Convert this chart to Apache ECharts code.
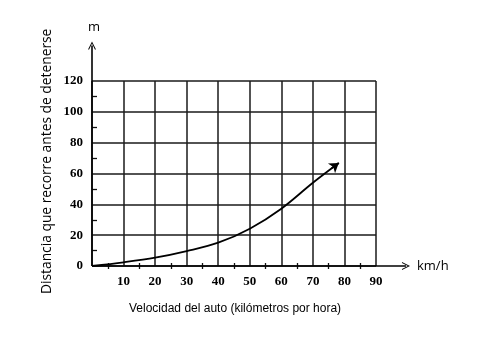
<!DOCTYPE html>
<html><head><meta charset="utf-8">
<script src="https://cdn.jsdelivr.net/npm/echarts@6/dist/echarts.min.js"></script>
<style>html,body{margin:0;padding:0;background:#fff}#c{width:495px;height:352px}</style>
</head><body><div id="c"></div>
<script>
const speed = [0, 10, 20, 30, 40, 50, 60, 70, 78.2];
const distance = [0, 2.4, 5.4, 9.7, 15.1, 24.2, 37.2, 54, 66.8];
const arrowFrom = [76, 63.5];
const xTicks = [10, 20, 30, 40, 50, 60, 70, 80, 90];
const yTicks = [0, 20, 40, 60, 80, 100, 120];
const xAxisEnd = 99.5, yAxisEnd = 143;

const chart = echarts.init(document.getElementById('c'));
const n = speed.length;
const chevron = 'path://M0,10 L5,0 L10,10 L8.6,10 L5,2.6 L1.4,10 Z';
const labelFont = {fontFamily: 'Liberation Serif', fontWeight: 'bold', fontSize: 13, color: '#000'};
chart.setOption({
  animation: false,
  backgroundColor: '#fff',
  grid: {left: 92, right: 119, top: 81, bottom: 86},
  xAxis: [{
    type: 'value', min: 0, max: 90, interval: 10,
    axisLine: {show: false},
    axisTick: {show: false},
    minorTick: {show: true, splitNumber: 2, length: 3, lineStyle: {color: '#111', width: 1.3}},
    splitLine: {show: true, lineStyle: {color: '#1a1a1a', width: 1.5}},
    axisLabel: Object.assign({margin: 9, showMinLabel: false,
      formatter: v => xTicks.includes(v) ? String(v) : ''}, labelFont)
  }, {
    type: 'value', min: 0, max: 90, interval: 10, position: 'bottom',
    axisLine: {show: false}, axisTick: {show: false}, axisLabel: {show: false},
    splitLine: {show: false},
    minorTick: {show: true, splitNumber: 2, length: -3, lineStyle: {color: '#111', width: 1.3}}
  }],
  yAxis: {
    type: 'value', min: 0, max: 120, interval: 20,
    axisLine: {show: false},
    axisTick: {show: false},
    minorTick: {show: true, splitNumber: 2, length: -5, lineStyle: {color: '#111', width: 1.3}},
    splitLine: {show: true, lineStyle: {color: '#1a1a1a', width: 1.5}},
    axisLabel: Object.assign({margin: 9,
      formatter: v => yTicks.includes(v) ? String(v) : ''}, labelFont)
  },
  graphic: [
    {type: 'text', left: 129, top: 303, style: {text: 'Velocidad del auto (kilómetros por hora)', font: '12px "Liberation Sans"', fill: '#000'}},
    {type: 'text', x: 40, y: 294, rotation: Math.PI / 2, style: {text: 'Distancia que recorre antes de detenerse', font: '13.8px "Open Sans"', fill: '#000', textVerticalAlign: 'top'}},
    {type: 'text', left: 88, top: 21, style: {text: 'm', font: '13px "Open Sans"', fill: '#000'}},
    {type: 'text', left: 417, top: 260, style: {text: 'km/h', font: '13px "Open Sans"', fill: '#000'}}
  ],
  series: [
    {
      type: 'line', xAxisIndex: 0, data: speed.map((s, i) => [s, distance[i]]),
      smooth: 0.35, symbol: 'none', lineStyle: {color: '#000', width: 1.8}
    },
    {
      type: 'lines', coordinateSystem: 'cartesian2d', xAxisIndex: 0, yAxisIndex: 0, clip: false,
      symbol: ['none', 'arrow'], symbolSize: 9,
      lineStyle: {color: '#000', width: 1.8, opacity: 1},
      data: [{coords: [arrowFrom, [speed[n - 1], distance[n - 1]]]}]
    },
    {
      type: 'lines', coordinateSystem: 'cartesian2d', xAxisIndex: 0, yAxisIndex: 0, clip: false,
      symbol: ['none', chevron], symbolSize: [10, 8], z: 5,
      lineStyle: {color: '#000', width: 1.6, opacity: 1},
      data: [{coords: [[0, 0], [xAxisEnd, 0]]}, {coords: [[0, 0], [0, yAxisEnd]]}]
    }
  ]
});
</script></body></html>
